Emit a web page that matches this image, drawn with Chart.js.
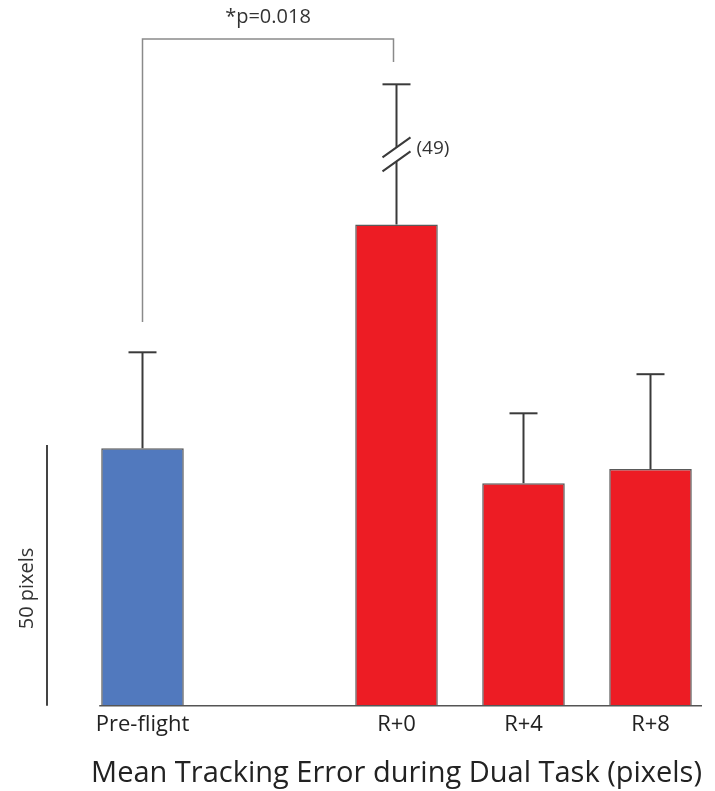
<!DOCTYPE html>
<html>
<head>
<meta charset="utf-8">
<script src="https://cdn.jsdelivr.net/npm/chart.js@4.4.1/dist/chart.umd.min.js"></script>
<style>
  html, body { margin: 0; padding: 0; background: #ffffff; }
  #wrap { width: 715px; height: 791px; position: relative; }
</style>
</head>
<body>
<div id="wrap"><canvas id="c"></canvas></div>
<script>
// ---- data ----
const categories = ['Pre-flight', '', 'R+0', 'R+4', 'R+8'];
const means = [49.4, null, 92.3, 42.7, 45.4];          // mean tracking error (pixels)
const errorsDrawn = [18.4, null, 26.9, 13.4, 18.2];    // drawn error-bar length (R+0 axis-broken)
const errorLabels = [null, null, '(49)', null, null];  // true SD shown for the broken bar
const barColors = ['#5179be', null, '#ed1c24', '#ed1c24', '#ed1c24'];
const scaleBarValue = 50;
const scaleBarLabel = '50 pixels';
const sigText = '*p=0.018';
const xTitle = 'Mean Tracking Error during Dual Task (pixels)';

const annotations = {
  id: 'annotations',
  afterDatasetsDraw(chart) {
    const ctx = chart.ctx;
    const y = chart.scales.y;
    const meta = chart.getDatasetMeta(0);
    const area = chart.chartArea;
    ctx.save();

    // baseline
    const b0 = meta.data[0];
    ctx.strokeStyle = '#555555';
    ctx.lineWidth = 1.5;
    ctx.beginPath();
    ctx.moveTo(b0.x - b0.width / 2 - 2, y.getPixelForValue(0));
    ctx.lineTo(area.right - 12, y.getPixelForValue(0));
    ctx.stroke();

    // error bars
    ctx.strokeStyle = '#3a3a3a';
    ctx.lineWidth = 2;
    means.forEach((m, i) => {
      if (m == null) return;
      const bar = meta.data[i];
      const x = bar.x;
      const yb = y.getPixelForValue(m);
      const yt = y.getPixelForValue(m + errorsDrawn[i]);
      if (errorLabels[i]) {
        const mid = (yb + yt) / 2;
        const g = 7;
        ctx.beginPath();
        ctx.moveTo(x, yb); ctx.lineTo(x, mid + g);
        ctx.moveTo(x, mid - g); ctx.lineTo(x, yt);
        ctx.stroke();
        ctx.beginPath();
        ctx.moveTo(x - 14, mid - g + 10); ctx.lineTo(x + 14, mid - g - 10);
        ctx.moveTo(x - 14, mid + g + 10); ctx.lineTo(x + 14, mid + g - 10);
        ctx.stroke();
        ctx.fillStyle = '#333333';
        ctx.font = '19px "Open Sans"';
        ctx.textAlign = 'left';
        ctx.textBaseline = 'middle';
        ctx.fillText(errorLabels[i], x + 20, mid - 6);
      } else {
        ctx.beginPath();
        ctx.moveTo(x, yb); ctx.lineTo(x, yt);
        ctx.stroke();
      }
      ctx.beginPath();
      ctx.moveTo(x - 14, yt); ctx.lineTo(x + 14, yt);
      ctx.stroke();
    });

    // significance bracket between Pre-flight and R+0
    const xa = meta.data[0].x, xb = meta.data[2].x - 3;
    const yTop = y.getPixelForValue(127.9);
    ctx.strokeStyle = '#8a8a8a';
    ctx.lineWidth = 1.5;
    ctx.beginPath();
    ctx.moveTo(xa, y.getPixelForValue(73.6));
    ctx.lineTo(xa, yTop);
    ctx.lineTo(xb, yTop);
    ctx.lineTo(xb, y.getPixelForValue(123.5));
    ctx.stroke();
    ctx.fillStyle = '#333333';
    ctx.font = '20px "Open Sans"';
    ctx.textAlign = 'center';
    ctx.textBaseline = 'middle';
    ctx.fillText(sigText, (xa + xb) / 2, yTop - 22);

    // scale bar (50 pixels)
    const sx = area.left - 32;
    ctx.strokeStyle = '#444444';
    ctx.lineWidth = 2;
    ctx.beginPath();
    ctx.moveTo(sx, y.getPixelForValue(0));
    ctx.lineTo(sx, y.getPixelForValue(scaleBarValue));
    ctx.stroke();
    ctx.translate(sx - 20, y.getPixelForValue(22.5));
    ctx.rotate(-Math.PI / 2);
    ctx.fillStyle = '#333333';
    ctx.font = '20px "Open Sans"';
    ctx.textAlign = 'center';
    ctx.textBaseline = 'middle';
    ctx.fillText(scaleBarLabel, 0, 0);
    ctx.restore();
  }
};

Chart.defaults.font.family = '"Open Sans", sans-serif';
new Chart(document.getElementById('c'), {
  type: 'bar',
  data: {
    labels: categories,
    datasets: [{
      data: means,
      backgroundColor: barColors,
      borderColor: '#5a5a5a',
      borderWidth: 1.5,
      barPercentage: 0.65,
      categoryPercentage: 1.0
    }]
  },
  options: {
    responsive: true,
    maintainAspectRatio: false,
    animation: false,
    layout: { padding: { left: 79, right: 1, top: 28, bottom: 0 } },
    plugins: { legend: { display: false }, tooltip: { enabled: false } },
    scales: {
      x: {
        grid: { display: false, drawTicks: false },
        border: { display: false },
        ticks: { color: '#222222', font: { size: 22 }, padding: 6 },
        title: { display: true, text: xTitle, color: '#222222', font: { size: 29 }, padding: { top: 12, bottom: 0 } }
      },
      y: { display: false, min: 0, max: 130 }
    }
  },
  plugins: [annotations]
});
</script>
</body>
</html>
